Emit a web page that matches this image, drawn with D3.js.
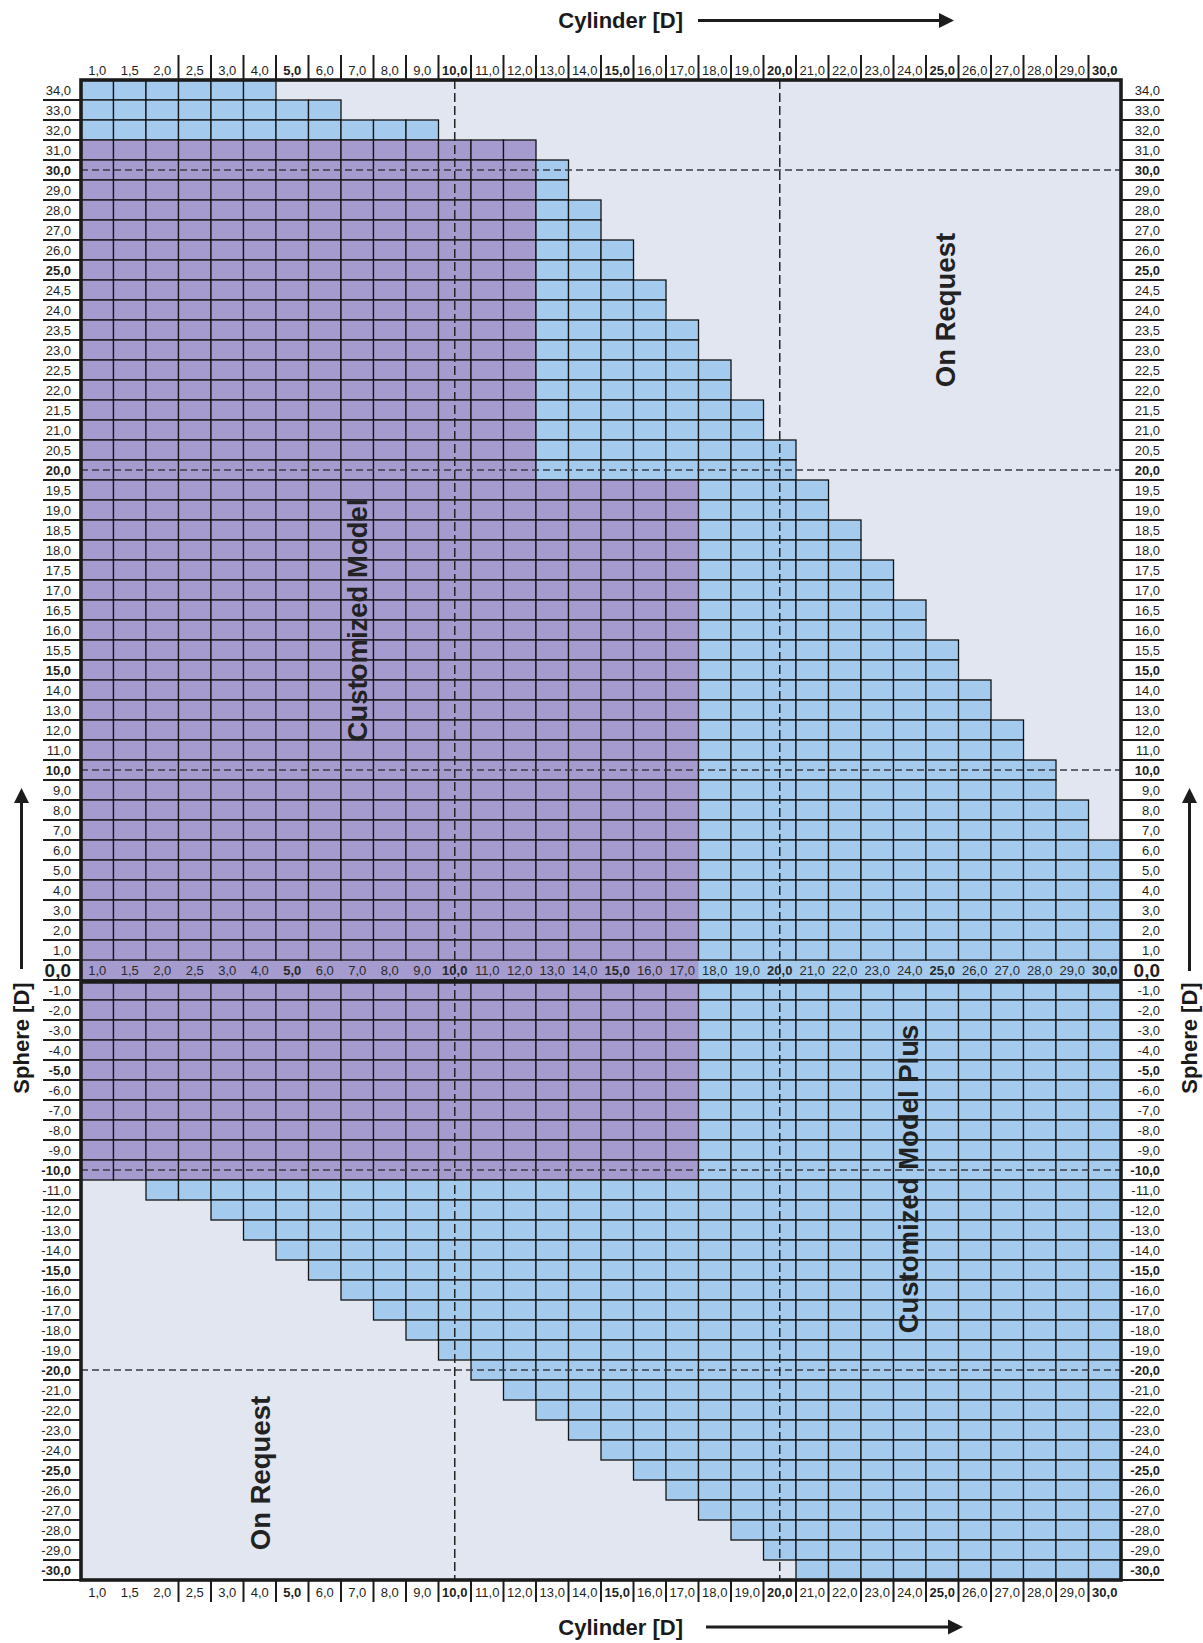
<!DOCTYPE html>
<html>
<head>
<meta charset="utf-8">
<script src="https://cdn.jsdelivr.net/npm/d3@7"></script>
<style>
  html, body { margin: 0; padding: 0; background: #ffffff; }
  svg { display: block; }
</style>
</head>
<body>
<div id="chart"></div>
<script>
// ---------------- DATA ----------------
const cylinder = [1, 1.5, 2, 2.5, 3, 4, 5, 6, 7, 8, 9, 10, 11, 12, 13, 14, 15, 16, 17, 18, 19, 20,
                  21, 22, 23, 24, 25, 26, 27, 28, 29, 30];

const sphere = [34, 33, 32, 31, 30, 29, 28, 27, 26, 25,
                24.5, 24, 23.5, 23, 22.5, 22, 21.5, 21, 20.5, 20,
                19.5, 19, 18.5, 18, 17.5, 17, 16.5, 16, 15.5, 15,
                14, 13, 12, 11, 10, 9, 8, 7, 6, 5, 4, 3, 2, 1,
                0,
                -1, -2, -3, -4, -5, -6, -7, -8, -9, -10,
                -11, -12, -13, -14, -15, -16, -17, -18, -19, -20,
                -21, -22, -23, -24, -25, -26, -27, -28, -29, -30];

// highest available sphere per cylinder column
const maxSphere = [34, 34, 34, 34, 34, 34, 33, 33, 32, 32, 32, 31, 31, 31, 30, 28,
                   26, 24.5, 23.5, 22.5, 21.5, 20.5, 19.5, 18.5, 17.5, 16.5, 15.5, 14, 12, 10, 8, 6];
// lowest available sphere per cylinder column
const minSphere = [-10, -10, -11, -11, -12, -13, -14, -15, -16, -17, -18, -19, -20, -21, -22, -23,
                   -24, -25, -26, -27, -28, -29, -30, -30, -30, -30, -30, -30, -30, -30, -30, -30];

// "Customized Model" (purple) range per column (null = none)
const modelTop = [31, 31, 31, 31, 31, 31, 31, 31, 31, 31, 31, 31, 31, 31, 19.5, 19.5, 19.5, 19.5, 19.5,
                  null, null, null, null, null, null, null, null, null, null, null, null, null];
const modelBottom = -10;

const boldCylinder = [5, 10, 15, 20, 25, 30];
const boldSphere = [30, 25, 20, 15, 10, -5, -10, -15, -20, -25, -30];
const dashedCylinder = [10, 20];
const dashedSphere = [30, 20, 10, -10, -20];

const regionLabels = [
  { text: "On Request", cyl: 25.1, sph: 24 },
  { text: "Customized Model", cyl: 7, sph: 16.25 },
  { text: "Customized Model Plus", cyl: 23.95, sph: -10.45 },
  { text: "On Request", cyl: 4, sph: -25.15 }
];

// ---------------- STYLE ----------------
const W = 1203, H = 1643;
const FONT = "'Liberation Sans', Arial, Helvetica, sans-serif";
const BLUE = "#a4cbee", PURPLE = "#a59bcf", BG = "#e1e6f1", INK = "#1c1c1c";

const fmt = v => v.toFixed(1).replace(".", ",");

const svg = d3.select("#chart").append("svg")
  .attr("width", W).attr("height", H)
  .attr("font-family", FONT);

const x = d3.scaleBand().domain(cylinder).range([81, 1121]).padding(0);
const y = d3.scaleBand().domain(sphere).range([80, 1580]).padding(0);
const bw = x.bandwidth(), bh = y.bandwidth();
const xc = v => x(v) + bw / 2;
const yc = v => y(v) + bh / 2;
// continuous helpers through the band centres (for free-floating labels)
const xl = d3.scaleLinear().domain(cylinder).range(cylinder.map(xc));
const yl = d3.scaleLinear().domain(sphere).range(sphere.map(yc));

// background
svg.append("rect")
  .attr("x", x.range()[0]).attr("y", y.range()[0])
  .attr("width", x.range()[1] - x.range()[0])
  .attr("height", y.range()[1] - y.range()[0])
  .attr("fill", BG);

// cells
const cells = [];
const zeroCells = [];
cylinder.forEach((c, i) => {
  sphere.forEach(s => {
    if (s > maxSphere[i] || s < minSphere[i]) return;
    const purple = modelTop[i] !== null && s <= modelTop[i] && s >= modelBottom;
    const d = { c, s, fill: purple ? PURPLE : BLUE };
    if (s === 0) zeroCells.push(d); else cells.push(d);
  });
});

svg.append("g").selectAll("rect.zero").data(zeroCells).join("rect")
  .attr("x", d => x(d.c)).attr("y", d => y(d.s))
  .attr("width", bw + 0.6).attr("height", bh)
  .attr("fill", d => d.fill);

svg.append("g").selectAll("rect.cell").data(cells).join("rect")
  .attr("x", d => x(d.c)).attr("y", d => y(d.s))
  .attr("width", bw).attr("height", bh)
  .attr("fill", d => d.fill)
  .attr("stroke", "#151515").attr("stroke-width", 1.3);

// middle cylinder labels (inside zero row)
svg.append("g").selectAll("text").data(cylinder).join("text")
  .attr("x", d => xc(d)).attr("y", yc(0) + 5)
  .attr("text-anchor", "middle")
  .attr("font-size", 13)
  .attr("font-weight", d => boldCylinder.includes(d) ? "bold" : "normal")
  .attr("fill", "#2a2a2a")
  .text(fmt);

// dashed guide lines
svg.append("g").selectAll("line").data(dashedSphere).join("line")
  .attr("x1", x.range()[0]).attr("x2", x.range()[1])
  .attr("y1", d => yc(d)).attr("y2", d => yc(d))
  .attr("stroke", "#3a3d45").attr("stroke-width", 1.6)
  .attr("stroke-dasharray", "7,4");

svg.append("g").selectAll("line").data(dashedCylinder).join("line")
  .attr("x1", d => xc(d)).attr("x2", d => xc(d))
  .attr("y1", y.range()[0]).attr("y2", y.range()[1])
  .attr("stroke", "#222").attr("stroke-width", 1.5)
  .attr("stroke-dasharray", "9,4");

// thick line under the zero row
svg.append("line")
  .attr("x1", x.range()[0]).attr("x2", x.range()[1])
  .attr("y1", y(0) + bh + 1.5).attr("y2", y(0) + bh + 1.5)
  .attr("stroke", INK).attr("stroke-width", 4.5);

// outer frame
svg.append("rect")
  .attr("x", x.range()[0]).attr("y", y.range()[0])
  .attr("width", x.range()[1] - x.range()[0])
  .attr("height", y.range()[1] - y.range()[0])
  .attr("fill", "none").attr("stroke", INK).attr("stroke-width", 3.6);

// ---- cylinder axes (top & bottom)
function cylAxis(baseY, sepY1, sepY2) {
  const g = svg.append("g");
  g.selectAll("text").data(cylinder).join("text")
    .attr("x", d => xc(d)).attr("y", baseY)
    .attr("text-anchor", "middle")
    .attr("font-size", 13)
    .attr("font-weight", d => boldCylinder.includes(d) ? "bold" : "normal")
    .attr("fill", "#1e1e1e")
    .text(fmt);
  g.selectAll("line").data(cylinder.slice(3)).join("line")
    .attr("x1", d => x(d)).attr("x2", d => x(d))
    .attr("y1", sepY1).attr("y2", sepY2)
    .attr("stroke", INK).attr("stroke-width", 2);
}
cylAxis(75, 55, y.range()[0]);
cylAxis(1597, y.range()[1], 1602);

// ---- sphere axes (left & right)
function sphAxis(textX, lineX1, lineX2) {
  const g = svg.append("g");
  g.selectAll("text").data(sphere).join("text")
    .attr("x", textX)
    .attr("y", d => yc(d) + (d === 0 ? 7 : 5))
    .attr("text-anchor", "end")
    .attr("font-size", d => d === 0 ? 19 : 13)
    .attr("font-weight", d => (d === 0 || boldSphere.includes(d)) ? "bold" : "normal")
    .attr("fill", "#1e1e1e")
    .text(fmt);
  g.selectAll("line").data(sphere).join("line")
    .attr("x1", lineX1).attr("x2", lineX2)
    .attr("y1", d => y(d) + bh).attr("y2", d => y(d) + bh)
    .attr("stroke", INK).attr("stroke-width", 2);
}
sphAxis(71, 43, x.range()[0]);
sphAxis(1160, x.range()[1], 1164);

// ---- region labels
svg.append("g").selectAll("text").data(regionLabels).join("text")
  .attr("transform", d => `translate(${xl(d.cyl)},${yl(d.sph)}) rotate(-90)`)
  .attr("text-anchor", "middle")
  .attr("dy", "0.36em")
  .attr("font-size", 27.5)
  .attr("font-weight", "bold")
  .attr("fill", "#222")
  .text(d => d.text);

// ---- axis titles with arrows
function hArrow(x1, x2, yy) {
  svg.append("line").attr("x1", x1).attr("x2", x2 - 12).attr("y1", yy).attr("y2", yy)
    .attr("stroke", INK).attr("stroke-width", 3);
  svg.append("path")
    .attr("d", `M${x2},${yy} L${x2 - 15},${yy - 7.5} L${x2 - 15},${yy + 7.5} Z`)
    .attr("fill", INK);
}
function vArrow(xx, y1, y2) {
  svg.append("line").attr("x1", xx).attr("x2", xx).attr("y1", y1).attr("y2", y2 + 12)
    .attr("stroke", INK).attr("stroke-width", 3);
  svg.append("path")
    .attr("d", `M${xx},${y2} L${xx - 7.5},${y2 + 15} L${xx + 7.5},${y2 + 15} Z`)
    .attr("fill", INK);
}

svg.append("text").attr("x", 683).attr("y", 28).attr("text-anchor", "end")
  .attr("font-size", 22).attr("font-weight", "bold").attr("fill", "#1a1a1a").text("Cylinder [D]");
hArrow(698, 954, 20.5);

svg.append("text").attr("x", 683).attr("y", 1635).attr("text-anchor", "end")
  .attr("font-size", 22).attr("font-weight", "bold").attr("fill", "#1a1a1a").text("Cylinder [D]");
hArrow(706, 963, 1627);

[[21.5, 969], [1189.5, 971]].forEach(([xx, yb]) => {
  svg.append("text")
    .attr("transform", `translate(${xx},1038) rotate(-90)`)
    .attr("text-anchor", "middle").attr("dy", "0.36em")
    .attr("font-size", 22).attr("font-weight", "bold").attr("fill", "#1a1a1a")
    .text("Sphere [D]");
  vArrow(xx, yb, 788);
});
</script>
</body>
</html>
